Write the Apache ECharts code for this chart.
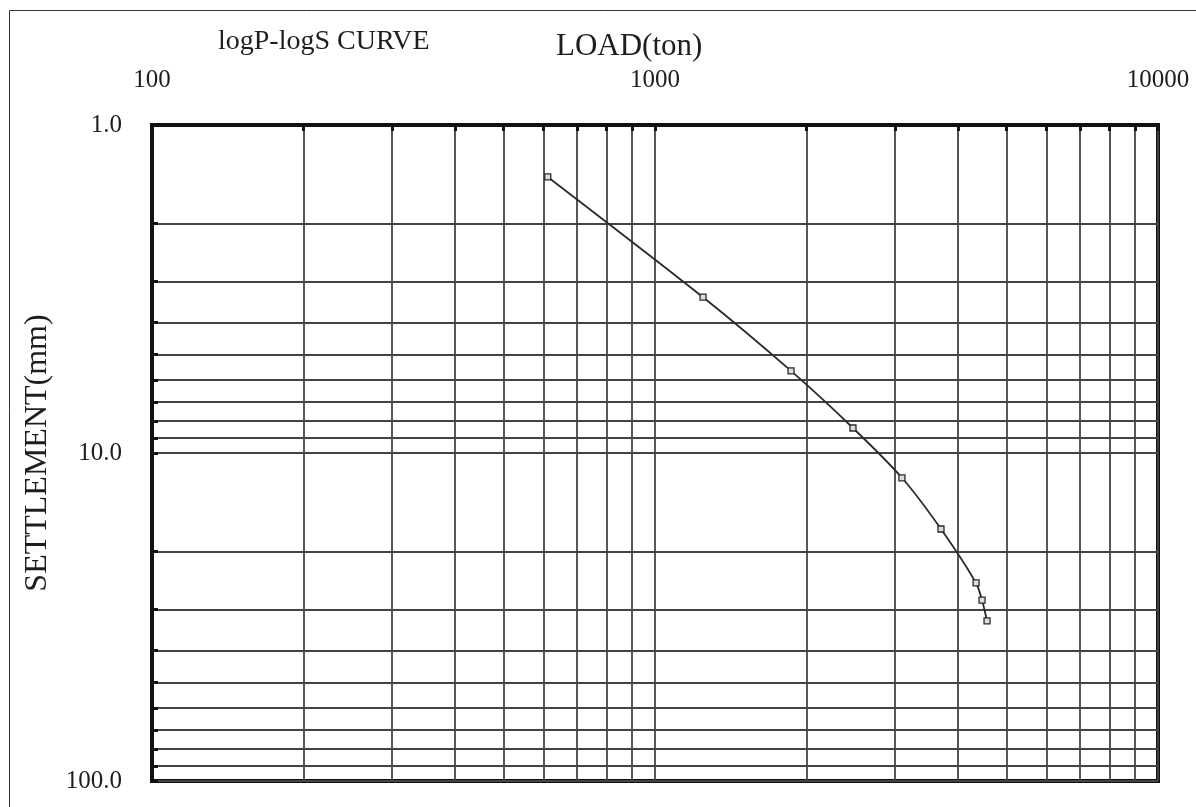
<!DOCTYPE html>
<html>
<head>
<meta charset="utf-8">
<script src="https://cdn.jsdelivr.net/npm/echarts@6/dist/echarts.min.js"></script>
<style>
  html, body { margin: 0; padding: 0; background: #fff; }
  #chart { width: 1196px; height: 807px; }
</style>
</head>
<body>
<div id="chart"></div>
<script>
// Load test readings: applied load (ton) vs. measured settlement (mm)
const loads       = [612, 1246, 1864, 2475, 3097, 3703, 4348, 4469, 4572];
const settlements = [1.44, 3.35, 5.62, 8.39, 11.9, 17.05, 24.9, 28.1, 32.5];

// Log-paper grid: every unit inside each decade
const loadGrid   = [100, 200, 300, 400, 500, 600, 700, 800, 900,
                    1000, 2000, 3000, 4000, 5000, 6000, 7000, 8000, 9000, 10000];
const settleGrid = [1, 2, 3, 4, 5, 6, 7, 8, 9,
                    10, 20, 30, 40, 50, 60, 70, 80, 90, 100];

// Labelled decades on each axis
const loadLabels   = [100, 1000, 10000];
const settleLabels = [1, 10, 100];

const serif = '"Liberation Serif", "DejaVu Serif", serif';
const ink = '#111';
const gridInk = '#444';
const textInk = '#1e1e1e';

const chart = echarts.init(document.getElementById('chart'));

chart.setOption({
  animation: false,
  backgroundColor: '#fff',
  graphic: [{
    type: 'rect',
    shape: { x: 9.5, y: 10.5, width: 1300, height: 900 },
    style: { fill: 'none', stroke: '#333', lineWidth: 1 },
    silent: true,
    z: 0
  }],
  title: [
    { text: 'logP-logS CURVE', left: 213, top: 23,
      textStyle: { fontFamily: serif, fontSize: 28, fontWeight: 'normal', color: textInk } },
    { text: 'LOAD(ton)', left: 551, top: 26,
      textStyle: { fontFamily: serif, fontSize: 31, fontWeight: 'normal', color: textInk } }
  ],
  grid: {
    left: 152, top: 125, right: 38, bottom: 26,
    show: true, borderColor: ink, borderWidth: 4, backgroundColor: 'transparent'
  },
  xAxis: {
    type: 'log', logBase: 10, min: 100, max: 10000, position: 'top',
    axisLine: { show: true, lineStyle: { color: ink, width: 4 } },
    axisTick: {
      show: true, inside: true, length: 6, customValues: loadGrid,
      lineStyle: { color: ink, width: 3 }
    },
    axisLabel: {
      customValues: loadLabels, margin: 32,
      fontFamily: serif, fontSize: 25, color: textInk,
      formatter: v => String(v)
    },
    splitLine: { show: true, lineStyle: { color: gridInk, width: 1.8 } },
    minorTick: { show: false }, minorSplitLine: { show: false }
  },
  yAxis: {
    type: 'log', logBase: 10, min: 1, max: 100, inverse: true,
    name: 'SETTLEMENT(mm)', nameLocation: 'middle', nameGap: 98, nameRotate: 90,
    nameTextStyle: { fontFamily: serif, fontSize: 32, color: textInk },
    axisLine: { show: true, lineStyle: { color: ink, width: 4 } },
    axisTick: {
      show: true, inside: true, length: 6, customValues: settleGrid,
      lineStyle: { color: ink, width: 3 }
    },
    axisLabel: {
      customValues: settleLabels, margin: 30,
      fontFamily: serif, fontSize: 25, color: textInk,
      padding: [7, 0, 0, 0],
      formatter: v => Number(v).toFixed(1)
    },
    splitLine: { show: true, lineStyle: { color: gridInk, width: 1.8 } },
    minorTick: { show: false }, minorSplitLine: { show: false }
  },
  series: [{
    type: 'line',
    data: loads.map((p, i) => [p, settlements[i]]),
    smooth: 0.25,
    symbol: 'rect',
    symbolSize: 6,
    showAllSymbol: true,
    lineStyle: { color: '#2a2a2a', width: 1.8 },
    itemStyle: { color: '#ddd', borderColor: '#2a2a2a', borderWidth: 1.3 },
    z: 5
  }]
});
</script>
</body>
</html>
